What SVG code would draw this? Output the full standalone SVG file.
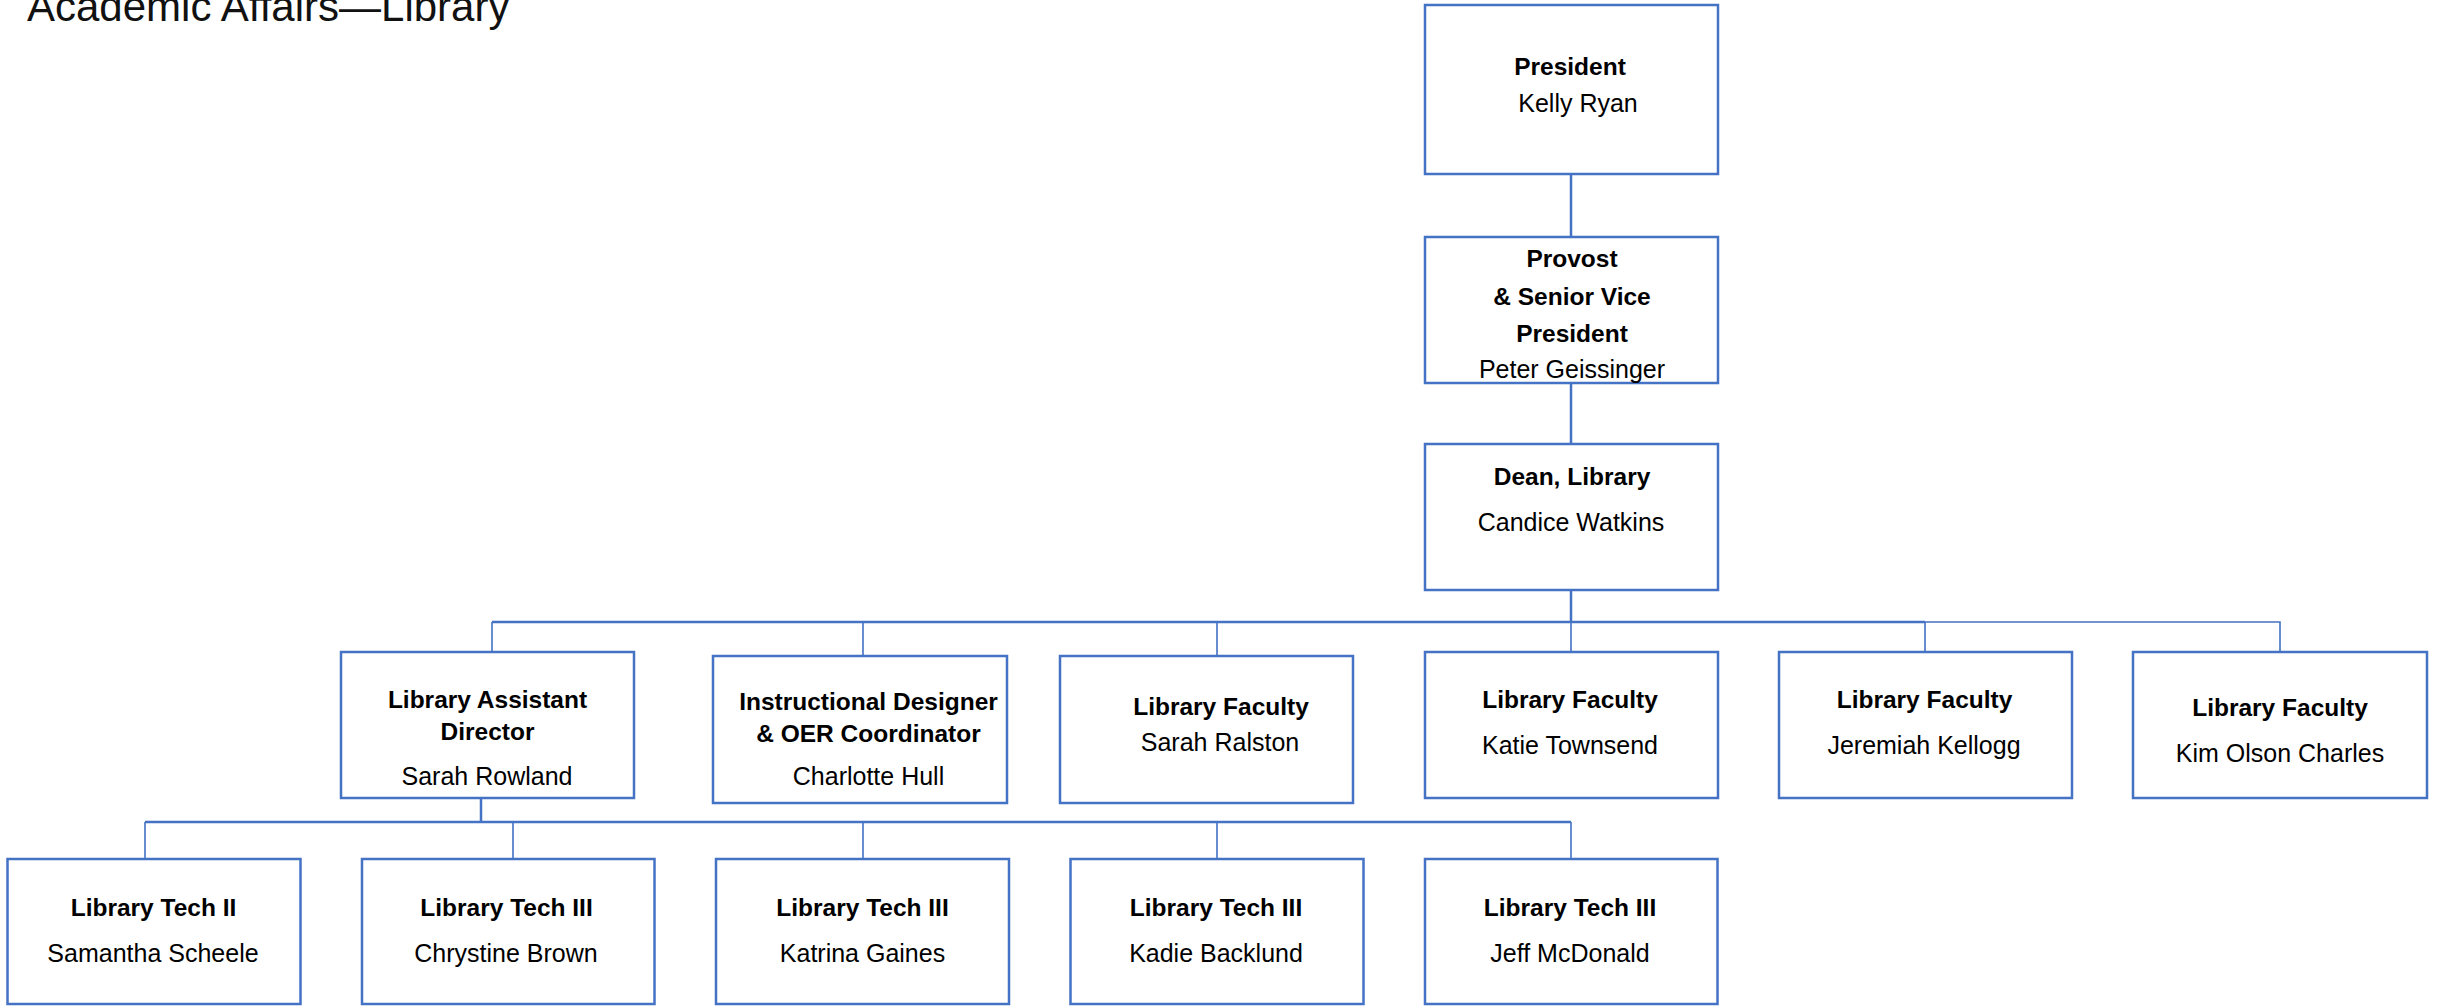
<svg xmlns="http://www.w3.org/2000/svg" width="2440" height="1006" viewBox="0 0 2440 1006">
<style>
.box{fill:#fff;stroke:#4472C4;stroke-width:2.5}
.c{fill:none;stroke:#4472C4;stroke-width:2.5}
.t{fill:none;stroke:#4472C4;stroke-width:1.6}
text{font-family:"Liberation Sans",Arial,sans-serif;fill:#000;text-anchor:middle}
.b{font-weight:bold;font-size:24.5px}
.n{font-size:25px}
.title{font-size:42px;text-anchor:start;fill:#111}
</style>
<rect width="2440" height="1006" fill="#fff"/>
<text class="title" x="27" y="21">Academic Affairs—Library</text>
<g id="connectors">
<path class="c" d="M1571 174V237M1571 383V444M1571 590V622"/>
<path class="c" d="M492 622H1925"/>
<path class="t" d="M1925 622H2280V652M492 622V652M863 622V656M1217 622V656M1571 622V652M1925 622V652"/>
<path class="c" d="M481 798V822M145 822H1571"/>
<path class="t" d="M145 822V859M513 822V859M863 822V859M1217 822V859M1571 822V859"/>
</g>
<g id="president"><rect class="box" x="1425" y="5" width="293" height="169"/><text class="b" x="1570" y="75">President</text><text class="n" x="1578" y="112">Kelly Ryan</text></g>
<g id="provost"><rect class="box" x="1425" y="237" width="293" height="146"/><text class="b" x="1572" y="267">Provost</text><text class="b" x="1572" y="305">&amp; Senior Vice</text><text class="b" x="1572" y="342">President</text><text class="n" x="1572" y="378">Peter Geissinger</text></g>
<g id="dean"><rect class="box" x="1425" y="444" width="293" height="146"/><text class="b" x="1572" y="485">Dean, Library</text><text class="n" x="1571" y="531">Candice Watkins</text></g>
<g id="lad"><rect class="box" x="341" y="652" width="293" height="146"/><text class="b" x="487.5" y="708">Library Assistant</text><text class="b" x="487.5" y="740">Director</text><text class="n" x="487" y="785">Sarah Rowland</text></g>
<g id="idoc"><rect class="box" x="713" y="656" width="294" height="147"/><text class="b" x="868.5" y="710">Instructional Designer</text><text class="b" x="868.5" y="742">&amp; OER Coordinator</text><text class="n" x="868.5" y="785">Charlotte Hull</text></g>
<g id="ralston"><rect class="box" x="1060" y="656" width="293" height="147"/><text class="b" x="1221" y="715">Library Faculty</text><text class="n" x="1220" y="751">Sarah Ralston</text></g>
<g id="townsend"><rect class="box" x="1425" y="652" width="293" height="146"/><text class="b" x="1570" y="708">Library Faculty</text><text class="n" x="1570" y="754">Katie Townsend</text></g>
<g id="kellogg"><rect class="box" x="1779" y="652" width="293" height="146"/><text class="b" x="1924.5" y="708">Library Faculty</text><text class="n" x="1924" y="754">Jeremiah Kellogg</text></g>
<g id="charles"><rect class="box" x="2133" y="652" width="294" height="146"/><text class="b" x="2280" y="716">Library Faculty</text><text class="n" x="2280" y="762">Kim Olson Charles</text></g>
<g id="scheele"><rect class="box" x="7.5" y="859" width="293" height="145"/><text class="b" x="153.5" y="916">Library Tech II</text><text class="n" x="153" y="962">Samantha Scheele</text></g>
<g id="brown"><rect class="box" x="362" y="859" width="292.5" height="145"/><text class="b" x="506.5" y="916">Library Tech III</text><text class="n" x="506" y="962">Chrystine Brown</text></g>
<g id="gaines"><rect class="box" x="716" y="859" width="293" height="145"/><text class="b" x="862.5" y="916">Library Tech III</text><text class="n" x="862.5" y="962">Katrina Gaines</text></g>
<g id="backlund"><rect class="box" x="1070.5" y="859" width="293" height="145"/><text class="b" x="1216" y="916">Library Tech III</text><text class="n" x="1216" y="962">Kadie Backlund</text></g>
<g id="mcdonald"><rect class="box" x="1425" y="859" width="292.5" height="145"/><text class="b" x="1570" y="916">Library Tech III</text><text class="n" x="1570" y="962">Jeff McDonald</text></g>
</svg>
